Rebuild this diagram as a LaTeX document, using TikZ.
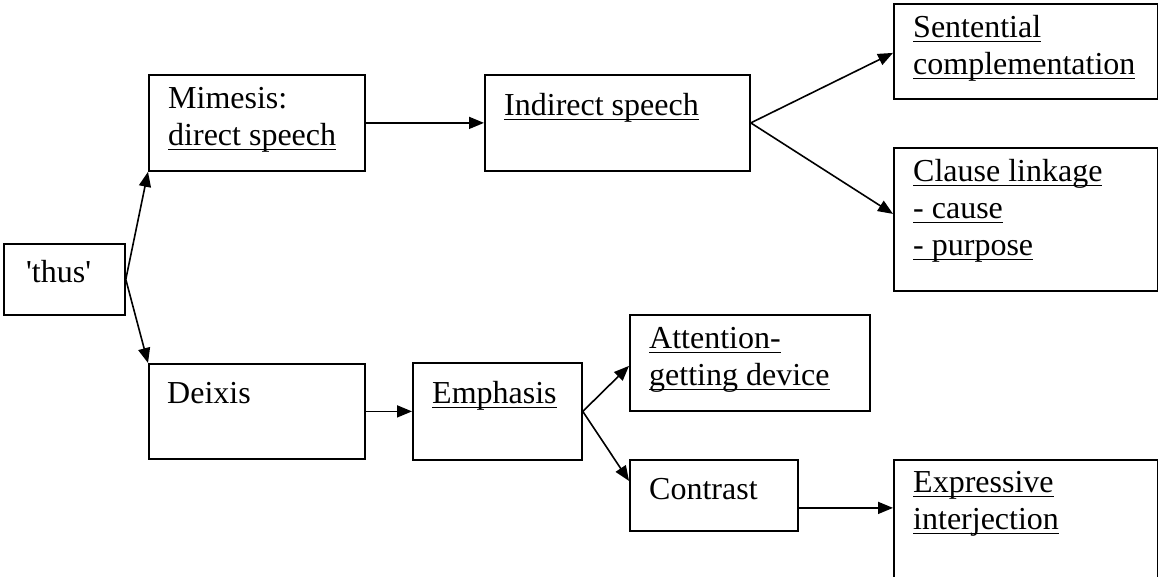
\documentclass[tikz,border=0pt]{standalone}
\usepackage{fontspec}
\setmainfont{Liberation Serif}
\usetikzlibrary{arrows.meta}
\newcommand{\ulword}[1]{\setbox0=\hbox{#1}\rlap{\rule[-5pt]{\wd0}{1.5pt}}\box0}
\tikzset{%
    box/.style={draw, line width=1.8pt, inner sep=0pt, anchor=north west},
    lbl/.style={font=\fontsize{32}{37}\selectfont, align=left, inner sep=0pt,
        anchor=north west, execute at begin node=\strut},
    arr/.style={line width=1.6pt, -{Triangle[length=15pt,width=12pt]}}
}
\begin{document}
\begin{tikzpicture}[x=1pt,y=-1pt]
    \useasboundingbox (0,0) rectangle (1158,577);
    % boxes
    \node[box, minimum width=121, minimum height=71] (thus) at (3,243) {};
    \node[box, minimum width=216, minimum height=96] (mim) at (148,74) {};
    \node[box, minimum width=216, minimum height=95] (dei) at (148,363) {};
    \node[box, minimum width=265, minimum height=96] (ind) at (484,74) {};
    \node[box, minimum width=264, minimum height=95] (sen) at (893,3) {};
    \node[box, minimum width=264, minimum height=143] (cla) at (893,147) {};
    \node[box, minimum width=169, minimum height=97] (emp) at (412,362) {};
    \node[box, minimum width=240, minimum height=96] (att) at (629,314) {};
    \node[box, minimum width=168, minimum height=71] (con) at (629,459) {};
    \node[box, minimum width=264, minimum height=150] (exp) at (893,459) {};
    % texts (top of first line = baseline - 26)
    \node[lbl] (thus-t) at (26,256) {\textquotesingle thus\textquotesingle};
    \node[lbl] (mim-t) at (168,87) {Mimesis:\\\ulword{direct speech}};
    \node[lbl] (dei-t) at (167,377) {Deixis};
    \node[lbl] (ind-t) at (504,89) {\ulword{Indirect speech}};
    \node[lbl] (sen-t) at (913,15) {\ulword{Sentential}\\\ulword{complementation}};
    \node[lbl] (cla-t) at (913,159) {\ulword{Clause linkage}\\\ulword{- cause}\\\ulword{- purpose}};
    \node[lbl] (emp-t) at (432,377) {\ulword{Emphasis}};
    \node[lbl] (att-t) at (649,327) {\ulword{Attention-}\\\ulword{getting device}};
    \node[lbl] (con-t) at (649,473) {Contrast};
    \node[lbl] (exp-t) at (913,471) {\ulword{Expressive}\\\ulword{interjection}};
    % arrows
    \draw[arr] (thus.east) -- (mim.south west);
    \draw[arr] (thus.east) -- (dei.north west);
    \draw[arr] (mim.east) -- (ind.west);
    \draw[arr] (ind.east) -- ([yshift=-1.5pt]sen.west);
    \draw[arr] (ind.east) -- ([yshift=5.5pt]cla.west);
    \draw[arr] (dei.east) -- (emp.west);
    \draw[arr] (emp.east) -- ([yshift=-3pt]att.west);
    \draw[arr] (emp.east) -- ([yshift=14.5pt]con.west);
    \draw[arr] ([yshift=-12.5pt]con.east) -- ([yshift=-12.5pt]con.east -| exp.west);
\end{tikzpicture}
\end{document}
